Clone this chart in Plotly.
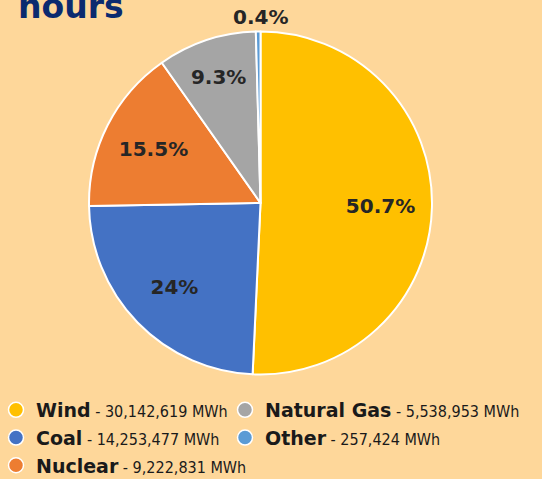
import plotly.graph_objects as go

sources = ['Wind', 'Coal', 'Nuclear', 'Natural Gas', 'Other']
mwh = [30142619, 14253477, 9222831, 5538953, 257424]
pct_labels = ['50.7%', '24%', '15.5%', '9.3%', '0.4%']
colors = ['#FFC000', '#4472C4', '#ED7D31', '#A5A5A5', '#5B9BD5']
legend_cols = {'legend': ['Wind', 'Coal', 'Nuclear'], 'legend2': ['Natural Gas', 'Other']}

BG = '#FED79A'
W, H = 542, 479
LEG_TOP = 391          # px from top, legend sits in a reserved bottom strip
PLOT_H = LEG_TOP       # plot area height once the strip is reserved


def py(px):
    return 1 - px / PLOT_H


pie_domain = dict(x=[89 / W, 432 / W], y=[py(374.5), py(31.5)])
label_font = dict(family='DejaVu Sans', size=20, color='#262626', weight='bold')

fig = go.Figure()

# coloured slices
fig.add_trace(go.Pie(
    labels=sources, values=mwh,
    sort=False, direction='clockwise', rotation=0,
    marker=dict(colors=colors, line=dict(color='white', width=2)),
    textinfo='none', showlegend=False,
    domain=pie_domain, hoverinfo='label+value',
))

# transparent ring on top, just to push the % labels outward
fig.add_trace(go.Pie(
    labels=sources, values=mwh, text=pct_labels[:4] + [''],
    sort=False, direction='clockwise', rotation=0, hole=0.4,
    marker=dict(colors=['rgba(0,0,0,0)'] * 5, line=dict(width=0)),
    textinfo='text', textposition='inside',
    insidetextorientation='horizontal',
    textfont=label_font,
    showlegend=False, domain=pie_domain, hoverinfo='skip',
))

# tiny "Other" slice: label centred above the top of the pie
fig.add_annotation(
    text=pct_labels[4], xref='paper', yref='paper',
    x=sum(pie_domain['x']) / 2, y=pie_domain['y'][1], yshift=1,
    xanchor='center', yanchor='bottom', showarrow=False,
    font=label_font,
)

# legend entries with circle markers
for lg, names in legend_cols.items():
    for name in names:
        i = sources.index(name)
        fig.add_trace(go.Scatter(
            x=[None], y=[None], mode='markers', legend=lg,
            name='<b>%s</b><span style="font-family:DejaVu Sans Condensed;font-weight:normal;font-size:16px"> - %s MWh</span>' % (name, format(mwh[i], ',')),
            marker=dict(size=15, color=colors[i], line=dict(color='white', width=1.5)),
        ))

fig.add_annotation(
    text='<b>hours</b>', xref='paper', yref='paper',
    x=0.029, y=py(28), xanchor='left', yanchor='bottom',
    showarrow=False,
    font=dict(family='DejaVu Sans', size=33, color='#0B2A6F'),
)

leg = dict(
    orientation='v', xref='paper', yref='container',
    y=1 - LEG_TOP / H, xanchor='left', yanchor='top', indentation=-4,
    font=dict(family='DejaVu Sans', size=19, color='#1a1a1a'),
    bgcolor='rgba(0,0,0,0)', itemclick=False,
)

fig.update_layout(
    width=W, height=H,
    margin=dict(l=0, r=0, t=0, b=0),
    paper_bgcolor=BG, plot_bgcolor=BG,
    xaxis=dict(visible=False), yaxis=dict(visible=False),
    legend=dict(leg, x=0),
    legend2=dict(leg, x=229 / W),
)

fig.write_html('out.html', config={'displayModeBar': False},
               post_script="document.body.style.margin='0';")
